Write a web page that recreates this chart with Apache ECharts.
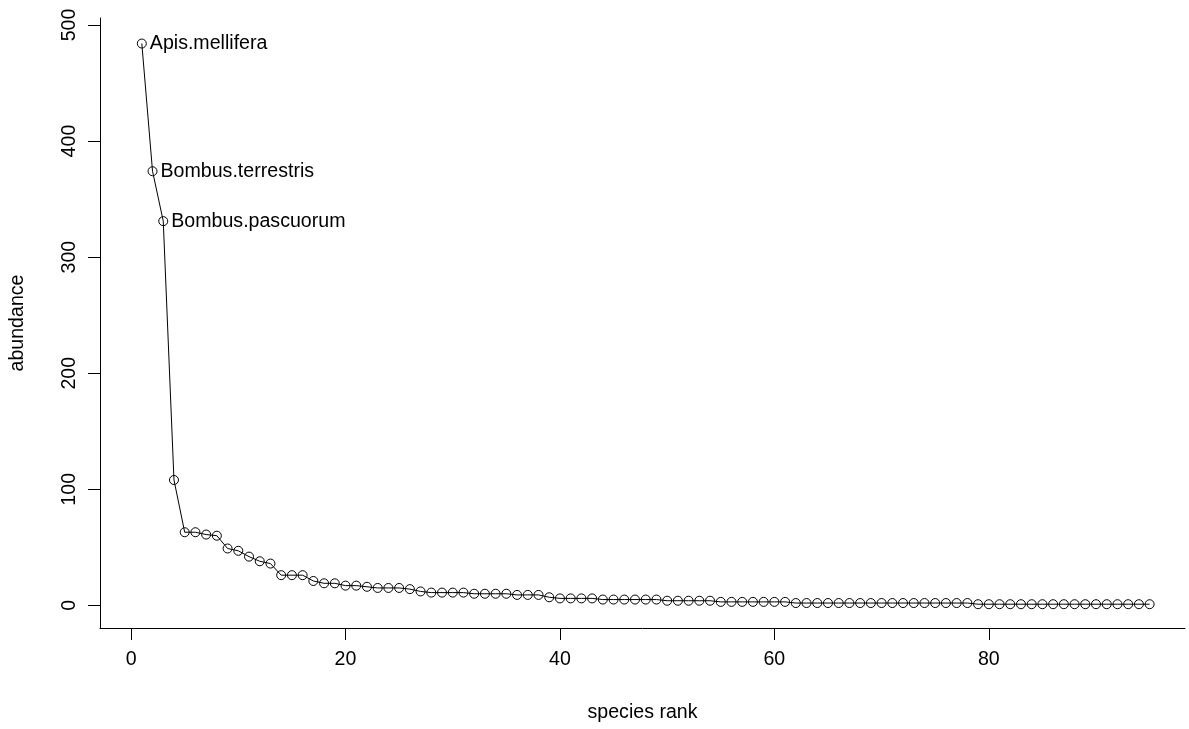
<!DOCTYPE html>
<html>
<head>
<meta charset="utf-8">
<script src="https://cdn.jsdelivr.net/npm/echarts@6/dist/echarts.min.js"></script>
<style>
    html, body { margin: 0; padding: 0; background: #fff; }
    #chart { width: 1189px; height: 729px; }
</style>
</head>
<body>
<div id="chart"></div>
<script>
// abundance per species, sorted by rank (rank = position + 1)
var abundance = [
    484, 374, 331, 108, 63, 63, 61, 60, 49, 47,
    42, 38, 36, 26, 26, 26, 21, 19, 19, 17,
    17, 16, 15, 15, 15, 14, 12, 11, 11, 11,
    11, 10, 10, 10, 10, 9, 9, 9, 7, 6,
    6, 6, 6, 5, 5, 5, 5, 5, 5, 4,
    4, 4, 4, 4, 3, 3, 3, 3, 3, 3,
    3, 2, 2, 2, 2, 2, 2, 2, 2, 2,
    2, 2, 2, 2, 2, 2, 2, 2, 1, 1,
    1, 1, 1, 1, 1, 1, 1, 1, 1, 1,
    1, 1, 1, 1, 1
];
// names written next to the first points
var topNames = ['Apis.mellifera', 'Bombus.terrestris', 'Bombus.pascuorum'];
var xTicks = [0, 20, 40, 60, 80];
var yTicks = [0, 100, 200, 300, 400, 500];

var font = '"Liberation Sans", Arial, sans-serif';
var fs = 19.6;

var points = abundance.map(function (v, i) {
    var item = { value: [i + 1, v] };
    if (i < topNames.length) {
        item.name = topNames[i];
        item.label = { show: true };
    }
    return item;
});

var dom = document.getElementById('chart');
var myChart = echarts.init(dom, null, { renderer: 'canvas' });

var option = {
    animation: false,
    grid: { left: 100, right: 4, top: 18, bottom: 101 },
    xAxis: {
        type: 'value',
        min: -2.9,
        max: 98.3,
        name: 'species rank',
        nameLocation: 'middle',
        nameGap: 75,
        nameTextStyle: { color: '#000', fontSize: fs, fontFamily: font },
        axisLine: { onZero: false, lineStyle: { color: '#000', width: 1 } },
        axisTick: { show: true, length: 12, customValues: xTicks, lineStyle: { color: '#000' } },
        axisLabel: { customValues: xTicks, margin: 22, color: '#000', fontSize: fs, fontFamily: font },
        splitLine: { show: false }
    },
    yAxis: {
        type: 'value',
        min: -19.5,
        max: 506,
        name: 'abundance',
        nameLocation: 'middle',
        nameGap: 72,
        nameTextStyle: { color: '#000', fontSize: fs, fontFamily: font },
        axisLine: { show: true, onZero: false, lineStyle: { color: '#000', width: 1 } },
        axisTick: { show: true, length: 12, customValues: yTicks, lineStyle: { color: '#000' } },
        axisLabel: { customValues: yTicks, rotate: 90, margin: 20, color: '#000', fontSize: fs, fontFamily: font },
        splitLine: { show: false }
    },
    series: [{
        type: 'line',
        data: points,
        symbol: 'circle',
        symbolSize: 9,
        showAllSymbol: true,
        itemStyle: { color: 'transparent', borderColor: '#000', borderWidth: 1 },
        lineStyle: { color: '#000', width: 1 },
        label: {
            show: false,
            position: 'right',
            distance: 3,
            formatter: '{b}',
            color: '#000',
            fontSize: fs,
            fontFamily: font
        },
        emphasis: { disabled: true }
    }]
};
myChart.setOption(option);
</script>
</body>
</html>
